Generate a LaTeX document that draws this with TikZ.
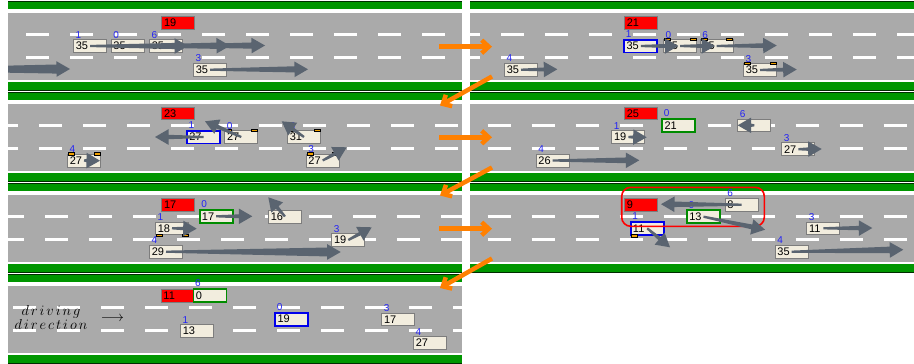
\documentclass[tikz,border=0pt]{standalone}
\usepackage{fontspec}
\setsansfont{Liberation Sans}
\usetikzlibrary{calc,arrows.meta}

\definecolor{roadgray}{RGB}{170,170,170}
\definecolor{verge}{RGB}{0,150,0}
\definecolor{vergeedge}{RGB}{0,45,0}
\definecolor{carfill}{RGB}{242,237,222}
\definecolor{boxedge}{RGB}{125,125,125}
\definecolor{idblue}{RGB}{35,35,245}
\definecolor{motiongray}{RGB}{90,100,112}
\definecolor{flowcolor}{RGB}{255,128,0}
\definecolor{signalcolor}{RGB}{240,160,0}
\definecolor{hlblue}{RGB}{0,0,235}
\definecolor{hlgreen}{RGB}{0,140,0}

\tikzset{
  lanemark/.style={draw=white, line width=2.8pt},
  vehicle/.style={draw=boxedge, fill=carfill, line width=0.8pt,
    minimum height=12.8pt, text width=28.5pt, inner xsep=2.3pt, inner ysep=0pt,
    align=left, font=\sffamily\fontsize{11}{12}\selectfont},
  focusblue/.style={draw=hlblue, line width=1.8pt},
  focusgreen/.style={draw=hlgreen, line width=1.8pt},
  obstacle/.style={fill=red},
  idlabel/.style={anchor=base west, inner sep=0pt, text=idblue,
    font=\sffamily\fontsize{10}{11}\selectfont},
  signalmark/.style={fill=signalcolor, draw=black, line width=0.5pt},
  focusring/.style={draw=red, line width=1.6pt, rounded corners=9pt},
  flow/.style={draw=flowcolor, line width=4.5pt,
    -{Straight Barb[length=7pt,width=13pt]}},
}

% one road section: left x, right x, top edge of the asphalt, first dash x
\newcommand{\roadpanel}[4]{%
  \fill[vergeedge] (#1,#3-11.7) rectangle (#2,#3-10.5);
  \fill[verge] (#1,#3-10.5) rectangle (#2,#3-3.3);
  \fill[roadgray] (#1,#3) rectangle (#2,#3+67);
  \fill[verge] (#1,#3+69.2) rectangle (#2,#3+76.8);
  \fill[vergeedge] (#1,#3+76.8) rectangle (#2,#3+78.3);
  \begin{scope}
    \clip (#1,#3) rectangle (#2,#3+67);
    \foreach \k in {0,...,11}{%
      \draw[lanemark] ({#4-44+44*\k},{#3+22}) -- ++(23,0);
      \draw[lanemark] ({#4-44+44*\k},{#3+45}) -- ++(23,0);
    }
  \end{scope}
}

% a vehicle box with its speed and its id above the left corner
\newcommand{\vehicle}[6][]{%
  \node[vehicle,#1] (#2) at (#3,#4) {#5};
  \node[idlabel] (#2-id) at ($(#2.north west)+(2.4,-1.2)$) {#6};
}

% a blinker on a box corner: node, anchor, horizontal offset
\newcommand{\blinker}[3]{%
  \filldraw[signalmark] ($(#1.#2)+({#3-3},-1.3)$) rectangle ($(#1.#2)+({#3+3},1.3)$);
}

% tapered motion arrow from a vehicle centre to a tip coordinate
\newcommand{\motion}[2]{%
  \pgfpointdiff{\pgfpointanchor{#1}{center}}{\pgfpointanchor{#2}{center}}%
  \pgfgetlastxy{\mdx}{\mdy}%
  \pgfmathsetlengthmacro{\mbase}{1.3pt+0.018*veclen(\mdx,\mdy)}%
  \coordinate (#1-hb) at ($(#2)!13.5pt!(#1.center)$);
  \fill[motiongray] ($(#1.center)!1.1pt!90:(#2)$) -- ($(#1-hb)!\mbase!90:(#2)$)
    -- ($(#1-hb)!7.8pt!90:(#2)$) -- (#2) -- ($(#1-hb)!7.8pt!-90:(#2)$)
    -- ($(#1-hb)!\mbase!-90:(#2)$) -- ($(#1.center)!1.1pt!-90:(#2)$) -- cycle;
}

\newcommand{\lsp}{\mkern2.5mu}

\begin{document}
\begin{tikzpicture}[x=1pt,y=-1pt]
\useasboundingbox (0,0) rectangle (914,364);

% ---------- road sections ----------
\roadpanel{8}{462}{12.7}{26}
\roadpanel{470}{914}{12.7}{501}
\roadpanel{8}{462}{103.7}{39}
\roadpanel{470}{914}{103.7}{487.7}
\roadpanel{8}{462}{194.7}{45}
\roadpanel{470}{914}{194.7}{487.7}
\roadpanel{8}{462}{285.7}{13}

% ---------- step 1 ----------
\node[vehicle,obstacle] (s1red) at (178.3,22.5) {19};
\vehicle{s1c1}{90}{46}{35}{1}
\vehicle{s1c0}{127.7}{46}{35}{0}
\vehicle{s1c6}{166}{46}{35}{6}
\vehicle{s1c3}{210}{69.7}{35}{3}
\coordinate (s1c4) at (-110,69.5);
\coordinate (s1c4t) at (70,69);
\coordinate (s1c1t) at (188,46);
\coordinate (s1c0t) at (230,45.7);
\coordinate (s1c6t) at (265,45.5);
\coordinate (s1c3t) at (308,69.3);

% ---------- step 2 ----------
\node[vehicle,obstacle] (s2red) at (641,22.5) {21};
\vehicle[focusblue]{s2c1}{640.8}{46}{35}{1}
\vehicle{s2c0}{680}{46}{35}{0}
\vehicle{s2c6}{716.7}{46}{35}{6}
\vehicle{s2c4}{521}{69.7}{35}{4}
\vehicle{s2c3}{760}{70}{35}{3}
\blinker{s2c0}{north west}{4}\blinker{s2c0}{north east}{-4}
\blinker{s2c6}{north west}{4}\blinker{s2c6}{north east}{-4}
\blinker{s2c3}{north west}{4}\blinker{s2c3}{north east}{-4}
\coordinate (s2c1t) at (678.3,46);
\coordinate (s2c0t) at (715,46);
\coordinate (s2c6t) at (776.7,45.5);
\coordinate (s2c4t) at (557.3,69.3);
\coordinate (s2c3t) at (796.7,69.5);

% ---------- step 3 ----------
\node[vehicle,obstacle] (s3red) at (178.3,113.3) {23};
\vehicle[focusblue]{s3c1}{203.5}{137}{27}{1}
\vehicle{s3c0}{241.3}{137}{27}{0}
\vehicle{s3c6}{304}{137}{31}{6}
\vehicle{s3c3}{322.7}{160.5}{27}{3}
\vehicle{s3c4}{84}{160.5}{27}{4}
\blinker{s3c0}{north west}{4}\blinker{s3c0}{north east}{-4}
\blinker{s3c6}{north west}{4}\blinker{s3c6}{north east}{-4}
\blinker{s3c3}{north west}{4}\blinker{s3c3}{north east}{-4}
\blinker{s3c4}{north west}{4}\blinker{s3c4}{north east}{-4}
\coordinate (s3c1t) at (155,137);
\coordinate (s3c0t) at (205,121.3);
\coordinate (s3c6t) at (281.7,121.3);
\coordinate (s3c3t) at (346.7,147.3);
\coordinate (s3c4t) at (100,160.7);

% ---------- step 4 ----------
\node[vehicle,obstacle] (s4red) at (641,113.3) {25};
\vehicle[focusgreen]{s4c0}{678.8}{125.2}{21}{0}
\vehicle{s4c1}{628.3}{137}{19}{1}
\vehicle{s4c6}{754.3}{125.3}{}{6}
\vehicle{s4c3}{798.3}{149.2}{27}{3}
\vehicle{s4c4}{552.7}{160.5}{26}{4}
\coordinate (s4c1t) at (646.7,137.3);
\coordinate (s4c6t) at (737.7,125.3);
\coordinate (s4c3t) at (821.7,149);
\coordinate (s4c4t) at (639.3,160.3);

% ---------- step 5 ----------
\node[vehicle,obstacle] (s5red) at (178.3,204.7) {17};
\vehicle[focusgreen]{s5c0}{216.2}{216.3}{17}{0}
\vehicle{s5c6}{285}{216.5}{16}{6}
\vehicle{s5c1}{172}{228.3}{18}{1}
\vehicle{s5c4}{166}{251.7}{29}{4}
\vehicle{s5c3}{348.3}{240}{19}{3}
\blinker{s5c1}{south west}{4}\blinker{s5c1}{south east}{-4}
\coordinate (s5c0t) at (252.3,216.3);
\coordinate (s5c6t) at (268.3,197.3);
\coordinate (s5c1t) at (196.7,228.7);
\coordinate (s5c4t) at (340.7,252);
\coordinate (s5c3t) at (371.7,227.3);

% ---------- step 6 ----------
\node[vehicle,obstacle] (s6red) at (641,204.7) {9};
\vehicle{s6c6}{741.7}{204.7}{8}{6}
\vehicle[focusgreen]{s6c0}{703.5}{216.7}{13}{0}
\vehicle[focusblue]{s6c1}{647.2}{228.3}{11}{1}
\vehicle{s6c3}{823.3}{228.3}{11}{3}
\vehicle{s6c4}{791.7}{251.7}{35}{4}
\blinker{s6c1}{south west}{4}
\draw[focusring] (621.7,187.3) rectangle (764.3,226.3);
\coordinate (s6c6t) at (661,204.2);
\coordinate (s6c0t) at (765,229.7);
\coordinate (s6c1t) at (670,247.3);
\coordinate (s6c3t) at (872.3,228);
\coordinate (s6c4t) at (903.3,249.7);

% ---------- step 7 ----------
\node[vehicle,obstacle] (s7red) at (177.7,295.7) {11};
\vehicle[focusgreen]{s7c6}{210}{295.3}{0}{6}
\vehicle{s7c1}{197}{331.2}{13}{1}
\vehicle[focusblue]{s7c0}{291.8}{319.2}{19}{0}
\vehicle{s7c3}{398.3}{319.3}{17}{3}
\vehicle{s7c4}{430}{343}{27}{4}
\node[align=center, inner sep=0pt, font=\fontsize{15}{13.5}\selectfont] (dirtext) at (51,317.5)
  {$d\lsp r\lsp i\lsp v\lsp i\lsp n\lsp g$\\$d\lsp i\lsp r\lsp e\lsp c\lsp t\lsp i\lsp o\lsp n$};
\node[inner sep=0pt, font=\fontsize{14}{14}\selectfont] (dirarrow) at (112.5,319.3) {$\longrightarrow$};

% ---------- motion arrows ----------
\begin{scope}
  \clip (8,12.7) rectangle (462,79.7);
  \motion{s1c4}{s1c4t}
\end{scope}
\motion{s1c1}{s1c1t}
\motion{s1c0}{s1c0t}
\motion{s1c6}{s1c6t}
\motion{s1c3}{s1c3t}
\motion{s2c1}{s2c1t}
\motion{s2c0}{s2c0t}
\motion{s2c6}{s2c6t}
\motion{s2c4}{s2c4t}
\motion{s2c3}{s2c3t}
\motion{s3c1}{s3c1t}
\motion{s3c0}{s3c0t}
\motion{s3c6}{s3c6t}
\motion{s3c3}{s3c3t}
\motion{s3c4}{s3c4t}
\motion{s4c1}{s4c1t}
\motion{s4c6}{s4c6t}
\motion{s4c3}{s4c3t}
\motion{s4c4}{s4c4t}
\motion{s5c0}{s5c0t}
\motion{s5c6}{s5c6t}
\motion{s5c1}{s5c1t}
\motion{s5c4}{s5c4t}
\motion{s5c3}{s5c3t}
\motion{s6c6}{s6c6t}
\motion{s6c0}{s6c0t}
\motion{s6c1}{s6c1t}
\motion{s6c3}{s6c3t}
\motion{s6c4}{s6c4t}

% ---------- sequence arrows between steps ----------
\coordinate (f1a) at (439,46.7);   \coordinate (f1b) at (492,46.7);
\coordinate (f2a) at (492,76.5);   \coordinate (f2b) at (440,105.5);
\coordinate (f3a) at (439,137.3);  \coordinate (f3b) at (492,137.3);
\coordinate (f4a) at (492,167.5);  \coordinate (f4b) at (440,195.5);
\coordinate (f5a) at (439,228.7);  \coordinate (f5b) at (492,228.7);
\coordinate (f6a) at (492,258.5);  \coordinate (f6b) at (440,288);
\foreach \i in {1,...,6}{\draw[flow] (f\i a) -- (f\i b);}
\end{tikzpicture}
\end{document}
